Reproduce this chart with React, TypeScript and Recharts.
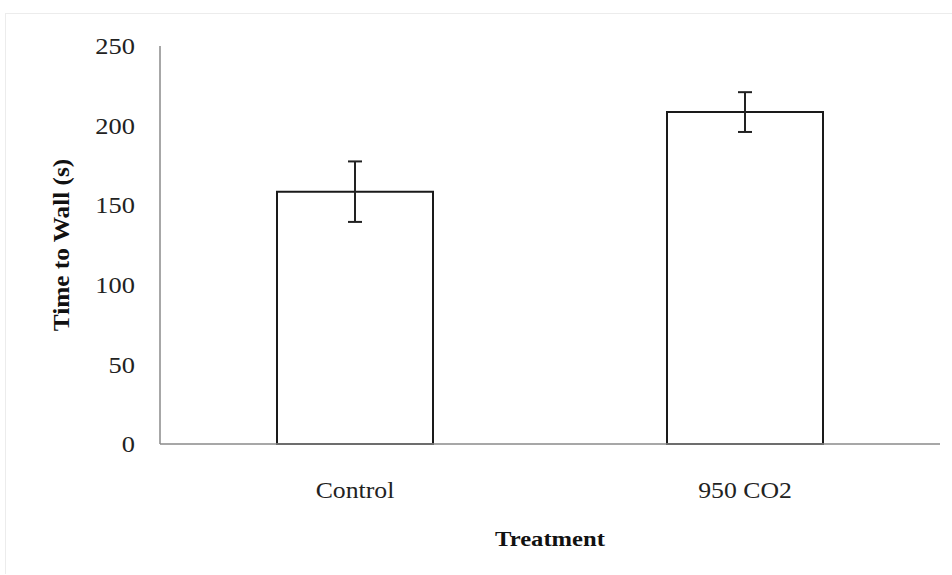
import React from 'react';
import { BarChart, Bar, XAxis, YAxis, ErrorBar } from 'recharts';

const categories = ['Control', '950 CO2'];
const meanValues = [158.5, 208.5];
const errorValues = [19, 12.5];
const yTicks = [0, 50, 100, 150, 200, 250];

const data = categories.map((name, i) => ({ name, value: meanValues[i], err: errorValues[i] }));

const FONT = '"Liberation Serif", "Times New Roman", serif';

const YTick = (props: any) => {
  const { x, y, payload } = props;
  return (
    <g transform={`translate(${x},${y})`}>
      <text transform="scale(1.15,1)" textAnchor="end" dy="0.36em" fontFamily={FONT} fontSize={23} fill="#222">
        {payload.value}
      </text>
    </g>
  );
};

const XTick = (props: any) => {
  const { x, y, payload } = props;
  return (
    <g transform={`translate(${x},${y})`}>
      <text transform="scale(1.12,1)" textAnchor="middle" dy="0.36em" fontFamily={FONT} fontSize={23} fill="#222">
        {payload.value}
      </text>
    </g>
  );
};

const YLabel = (props: any) => {
  const vb = props.viewBox || {};
  const cx = (vb.x ?? 60) + 1;
  const cy = (vb.y ?? 46) + (vb.height ?? 398) / 2;
  return (
    <g transform={`translate(${cx},${cy}) rotate(-90)`}>
      <text transform="scale(1.1,1)" textAnchor="middle" dy="0.36em" fontFamily={FONT} fontWeight="bold" fontSize={23} fill="#111">
        Time to Wall (s)
      </text>
    </g>
  );
};

const XLabel = (props: any) => {
  const vb = props.viewBox || {};
  const cx = (vb.x ?? 160) + (vb.width ?? 780) / 2;
  const cy = (vb.y ?? 444) + 94;
  return (
    <g transform={`translate(${cx},${cy})`}>
      <text transform="scale(1.12,1)" textAnchor="middle" dy="0.36em" fontFamily={FONT} fontWeight="bold" fontSize={22} fill="#111">
        Treatment
      </text>
    </g>
  );
};

export default function App() {
  return (
    <div style={{ position: 'absolute', left: 0, top: 0, width: 952, height: 575, background: '#fff' }}>
      <div style={{ position: 'absolute', left: 5, top: 13, width: 950, height: 560, borderTop: '1px solid #ececec', borderLeft: '1px solid #ececec' }} />
      <div style={{ position: 'absolute', left: 0, top: 0 }}>
        <BarChart
          width={952}
          height={575}
          data={data}
          margin={{ top: 46, right: 12, bottom: 51, left: 60 }}
          barCategoryGap="30%"
        >
          <XAxis
            dataKey="name"
            height={80}
            axisLine={{ stroke: '#8a8a8a', strokeWidth: 1.5 }}
            tickLine={false}
            tickSize={0}
            tickMargin={46}
            tick={<XTick />}
            label={<XLabel />}
          />
          <YAxis
            width={100}
            domain={[0, 250]}
            ticks={yTicks}
            interval={0}
            axisLine={{ stroke: '#8a8a8a', strokeWidth: 1.5 }}
            tickLine={false}
            tickSize={0}
            tickMargin={25}
            tick={<YTick />}
            label={<YLabel />}
          />
          <Bar dataKey="value" fill="#ffffff" stroke="#1a1a1a" strokeWidth={2} isAnimationActive={false}>
            <ErrorBar dataKey="err" width={7} stroke="#222" strokeWidth={2} />
          </Bar>
        </BarChart>
      </div>
    </div>
  );
}
